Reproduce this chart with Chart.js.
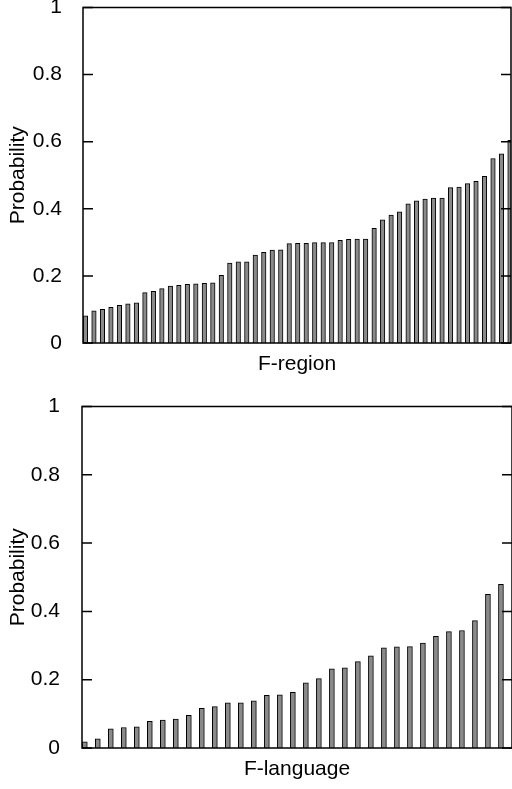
<!DOCTYPE html>
<html>
<head>
<meta charset="utf-8">
<script src="https://cdn.jsdelivr.net/npm/chart.js@4/dist/chart.umd.min.js"></script>
<style>
  body { margin: 0; background: #fff; }
  canvas { display: block; }
</style>
</head>
<body>
<canvas id="regionChart" width="512" height="395"></canvas>
<canvas id="langChart" width="512" height="394"></canvas>
<script>
// probabilities, sorted ascending, one bar per item
var regionProb = [0.081, 0.096, 0.100, 0.106, 0.112, 0.117, 0.120, 0.150, 0.154, 0.162,
  0.170, 0.172, 0.175, 0.176, 0.178, 0.179, 0.202, 0.238, 0.242, 0.242,
  0.262, 0.270, 0.277, 0.278, 0.296, 0.297, 0.297, 0.299, 0.299, 0.299,
  0.306, 0.309, 0.310, 0.310, 0.342, 0.367, 0.381, 0.391, 0.415, 0.424,
  0.429, 0.432, 0.432, 0.463, 0.465, 0.475, 0.482, 0.497, 0.550, 0.564, 0.604];
var languageProb = [0.018, 0.027, 0.056, 0.060, 0.062, 0.078, 0.082, 0.085, 0.096, 0.116,
  0.121, 0.132, 0.132, 0.138, 0.154, 0.156, 0.163, 0.191, 0.203, 0.232,
  0.235, 0.253, 0.270, 0.293, 0.296, 0.297, 0.307, 0.327, 0.341, 0.344,
  0.373, 0.450, 0.479];
var yTicks = [0, 0.2, 0.4, 0.6, 0.8, 1];
var yTitle = 'Probability';
var regionTitle = 'F-region';
var languageTitle = 'F-language';

var FONT = { family: '"Liberation Sans", Arial, sans-serif', size: 21 };

// box round the plot plus inward ticks on both sides
var framePlugin = {
  id: 'frame',
  afterDraw: function(chart) {
    var ctx = chart.ctx, a = chart.chartArea, y = chart.scales.y;
    ctx.save();
    ctx.strokeStyle = '#000';
    ctx.lineWidth = 1.5;
    ctx.strokeRect(a.left, a.top, a.right - a.left, a.bottom - a.top);
    y.ticks.forEach(function(t) {
      var py = y.getPixelForValue(t.value);
      ctx.beginPath();
      ctx.moveTo(a.left, py); ctx.lineTo(a.left + 10, py);
      ctx.moveTo(a.right, py); ctx.lineTo(a.right - 10, py);
      ctx.stroke();
    });
    ctx.restore();
  }
};

function makeChart(id, values, xTitle, o) {
  var ctx = document.getElementById(id).getContext('2d');
  var pts = values.map(function(v, i) { return { x: i, y: v }; });
  return new Chart(ctx, {
    type: 'bar',
    data: {
      datasets: [{
        data: pts,
        backgroundColor: '#8a8a8a',
        borderColor: '#000',
        borderWidth: 1,
        borderSkipped: 'bottom',
        barThickness: o.barW
      }]
    },
    options: {
      responsive: false,
      animation: false,
      layout: {
        autoPadding: false,
        padding: { top: o.top, right: o.right, bottom: 0, left: 0 }
      },
      plugins: { legend: { display: false }, tooltip: { enabled: false } },
      scales: {
        x: {
          type: 'linear',
          offset: false,
          min: o.xMin,
          max: o.xMax,
          grid: { display: false },
          border: { display: false },
          ticks: { display: false },
          title: {
            display: true, text: xTitle, color: '#000', font: FONT,
            padding: { top: 0, bottom: o.titlePad }
          },
          afterFit: function(s) {
            s.height = o.xHeight;
            s.paddingLeft = 0; s.paddingRight = 0;
          }
        },
        y: {
          min: 0,
          max: 1,
          grid: { display: false },
          border: { display: false },
          afterBuildTicks: function(s) {
            s.ticks = yTicks.map(function(v) { return { value: v }; });
          },
          ticks: {
            color: '#000', font: FONT, padding: o.tickPad,
            callback: function(v) { return String(v); }
          },
          title: {
            display: true, text: yTitle, color: '#000', font: FONT,
            padding: { top: 6, bottom: 0 }
          },
          afterFit: function(s) {
            s.width = o.yWidth;
            s.paddingTop = 0; s.paddingBottom = 0;
          }
        }
      }
    },
    plugins: [framePlugin]
  });
}

makeChart('regionChart', regionProb, regionTitle, {
  top: 7.5, right: 1, xMin: -0.29, xMax: 50.12, barW: 4.5,
  xHeight: 52, titlePad: 18, yWidth: 83, tickPad: 13
});
// lower plot runs slightly past the right edge of the picture
makeChart('langChart', languageProb, languageTitle, {
  top: 11.5, right: -1.5, xMin: -0.215, xMax: 32.85, barW: 5,
  xHeight: 41, titlePad: 7, yWidth: 82, tickPad: 14
});
</script>
</body>
</html>
